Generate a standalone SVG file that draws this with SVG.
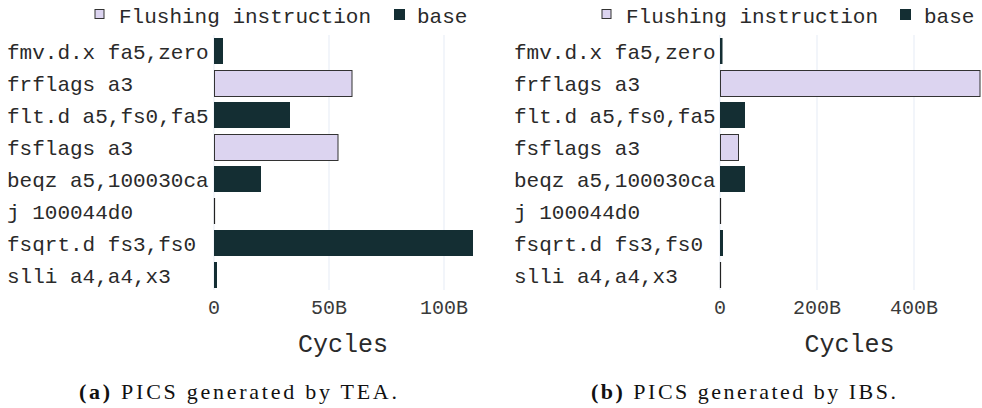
<svg xmlns="http://www.w3.org/2000/svg" width="982" height="408" viewBox="0 0 982 408">
<style>
.lbl{font-family:"Liberation Mono","Courier New",monospace;font-size:21px;fill:#2a2a2a}
.tick{font-family:"Liberation Mono","Courier New",monospace;font-size:20px;fill:#3a3a3a;text-anchor:middle}
.ax{font-family:"Liberation Mono","Courier New",monospace;font-size:25px;fill:#2a2a2a;text-anchor:middle}
.cap{font-family:"Liberation Serif","Times New Roman",serif;font-size:22px;fill:#111}
.grid{stroke:#eef2f9;stroke-width:1.5}
.flush{fill:#dcd4f0;stroke:#333;stroke-width:1}
.base{fill:#142e33}
.zero{stroke:#222;stroke-width:1.2}
</style>
<rect width="982" height="408" fill="#fff"/>
<g id="chartA">
  <g id="gridA">
    <line class="grid" x1="214" y1="35" x2="214" y2="290"/>
    <line class="grid" x1="329" y1="35" x2="329" y2="290"/>
    <line class="grid" x1="444" y1="35" x2="444" y2="290"/>
  </g>
  <g id="legendA">
    <rect class="flush" x="95" y="9.5" width="9" height="9"/>
    <text class="lbl" x="119" y="23">Flushing instruction</text>
    <rect class="base" x="394" y="9" width="11" height="11"/>
    <text class="lbl" x="417" y="23">base</text>
  </g>
  <g id="labelsA">
    <text class="lbl" x="7" y="59">fmv.d.x fa5,zero</text>
    <text class="lbl" x="7" y="91">frflags a3</text>
    <text class="lbl" x="7" y="123">flt.d a5,fs0,fa5</text>
    <text class="lbl" x="7" y="155">fsflags a3</text>
    <text class="lbl" x="7" y="187">beqz a5,100030ca</text>
    <text class="lbl" x="7" y="219">j 100044d0</text>
    <text class="lbl" x="7" y="251">fsqrt.d fs3,fs0</text>
    <text class="lbl" x="7" y="283">slli a4,a4,x3</text>
  </g>
  <g id="barsA">
    <rect class="base" x="214" y="38" width="9" height="26"/>
    <rect class="flush" x="214.5" y="70.5" width="137.5" height="26"/>
    <rect class="base" x="214" y="102" width="76" height="26"/>
    <rect class="flush" x="214.5" y="134.5" width="123.5" height="26"/>
    <rect class="base" x="214" y="166" width="47" height="26"/>
    <line class="zero" x1="214.5" y1="198" x2="214.5" y2="224"/>
    <rect class="base" x="214" y="230" width="259" height="26"/>
    <rect class="base" x="214" y="262" width="3" height="26"/>
  </g>
  <g id="ticksA">
    <text class="tick" x="214" y="314">0</text>
    <text class="tick" x="329" y="314">50B</text>
    <text class="tick" x="444" y="314">100B</text>
  </g>
  <text class="ax" x="343" y="352">Cycles</text>
  <text class="cap" x="79" y="399" textLength="318" lengthAdjust="spacing"><tspan font-weight="bold">(a)</tspan> PICS generated by TEA.</text>
</g>
<g id="chartB">
  <g id="gridB">
    <line class="grid" x1="720" y1="35" x2="720" y2="290"/>
    <line class="grid" x1="817" y1="35" x2="817" y2="290"/>
    <line class="grid" x1="914" y1="35" x2="914" y2="290"/>
  </g>
  <g id="legendB">
    <rect class="flush" x="602" y="9.5" width="9" height="9"/>
    <text class="lbl" x="626" y="23">Flushing instruction</text>
    <rect class="base" x="900" y="9" width="11" height="11"/>
    <text class="lbl" x="924" y="23">base</text>
  </g>
  <g id="labelsB">
    <text class="lbl" x="514" y="59">fmv.d.x fa5,zero</text>
    <text class="lbl" x="514" y="91">frflags a3</text>
    <text class="lbl" x="514" y="123">flt.d a5,fs0,fa5</text>
    <text class="lbl" x="514" y="155">fsflags a3</text>
    <text class="lbl" x="514" y="187">beqz a5,100030ca</text>
    <text class="lbl" x="514" y="219">j 100044d0</text>
    <text class="lbl" x="514" y="251">fsqrt.d fs3,fs0</text>
    <text class="lbl" x="514" y="283">slli a4,a4,x3</text>
  </g>
  <g id="barsB">
    <rect class="base" x="720" y="38" width="2.5" height="26"/>
    <rect class="flush" x="720.5" y="70.5" width="259.5" height="26"/>
    <rect class="base" x="720" y="102" width="25" height="26"/>
    <rect class="flush" x="720.5" y="134.5" width="18" height="26"/>
    <rect class="base" x="720" y="166" width="25" height="26"/>
    <line class="zero" x1="720.5" y1="198" x2="720.5" y2="224"/>
    <rect class="base" x="720" y="230" width="3" height="26"/>
    <line class="zero" x1="720.5" y1="262" x2="720.5" y2="288"/>
  </g>
  <g id="ticksB">
    <text class="tick" x="720" y="314">0</text>
    <text class="tick" x="817" y="314">200B</text>
    <text class="tick" x="914" y="314">400B</text>
  </g>
  <text class="ax" x="849.5" y="352">Cycles</text>
  <text class="cap" x="591" y="399" textLength="305" lengthAdjust="spacing"><tspan font-weight="bold">(b)</tspan> PICS generated by IBS.</text>
</g>
</svg>
